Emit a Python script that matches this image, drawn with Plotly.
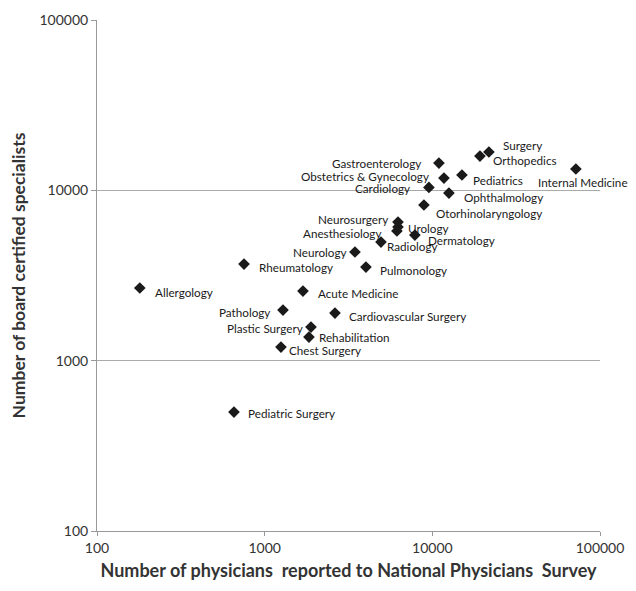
import math
import plotly.graph_objects as go

specialties = ["Surgery", "Orthopedics", "Gastroenterology", "Obstetrics & Gynecology", "Pediatrics",
               "Internal Medicine", "Cardiology", "Ophthalmology", "Otorhinolaryngology", "Neurosurgery",
               "Urology", "Anesthesiology", "Dermatology", "Radiology", "Neurology", "Pulmonology",
               "Rheumatology", "Allergology", "Acute Medicine", "Pathology", "Cardiovascular Surgery",
               "Plastic Surgery", "Rehabilitation", "Chest Surgery", "Pediatric Surgery"]
physicians = [21750, 19230, 10950, 11730, 15020, 71800, 9540, 12560, 8910, 6240,
              6240, 6150, 7870, 4940, 3455, 4018, 753, 180, 1692, 1286, 2626, 1889, 1837, 1251, 656]
certified = [16790, 15900, 14460, 11810, 12300, 13340, 10400, 9640, 8200, 6510,
             6090, 5770, 5465, 4970, 4345, 3545, 3690, 2670, 2563, 1982, 1903, 1575, 1376, 1202, 499]
x_ticks = [100, 1000, 10000, 100000]
y_ticks = [100, 1000, 10000, 100000]

# label placement (anchor side, x offset px, y offset px downward)
label_style = [("left", 13, -7), ("left", 12, 4), ("right", -17, 0), ("right", -14, -2), ("left", 10, 5),
               ("left", -39, 13), ("right", -18, 1), ("left", 14, 4), ("left", 11, 8), ("right", -9, -3),
               ("left", 9, 1), ("right", -15, 2), ("left", 12, 5), ("left", 5, 4), ("right", -7, 0),
               ("left", 13, 3), ("left", 14, 3), ("left", 14, 4), ("left", 14, 2), ("right", -12, 2),
               ("left", 13, 3), ("right", -7, 1), ("left", 9, 0), ("left", 7, 3), ("left", 13, 1)]

fig = go.Figure(go.Scatter(
    x=physicians, y=certified, mode="markers",
    marker=dict(symbol="diamond", color="#1a1a1a", size=9),
    cliponaxis=False, showlegend=False, hovertext=specialties,
))

# annotations on log axes take log10 positions
for name, xv, yv, (anchor, dx, dy) in zip(specialties, physicians, certified, label_style):
    fig.add_annotation(x=math.log10(xv), y=math.log10(yv), xref="x", yref="y", text=name, showarrow=False,
                       xanchor=anchor, yanchor="middle", xshift=dx, yshift=-dy,
                       borderpad=0, font=dict(family="Lato", size=11.7, color="#1a1a1a"))

fig.update_layout(
    width=628, height=583, plot_bgcolor="white", paper_bgcolor="white",
    margin=dict(l=89, r=36, t=12, b=60, autoexpand=False),
    font=dict(family="Lato", color="#333"),
)
fig.update_xaxes(type="log", range=[2, 5], tickvals=x_ticks, ticktext=[str(v) for v in x_ticks],
                 showgrid=False, showline=True, linecolor="#999", linewidth=1,
                 ticks="outside", ticklen=4, tickcolor="#999", tickfont=dict(size=14, color="#333"),
                 title=dict(text="<b>Number of physicians  reported to National Physicians  Survey</b>",
                            font=dict(size=18, color="#333"), standoff=9), zeroline=False)
fig.update_yaxes(type="log", range=[2, 5], tickvals=y_ticks, ticktext=[str(v) for v in y_ticks],
                 showgrid=True, gridcolor="#aaa", gridwidth=1,
                 showline=True, linecolor="#999", linewidth=1,
                 ticks="outside", ticklen=5, tickcolor="#999", tickfont=dict(size=14, color="#333"),
                 title=dict(text="<b>Number of board certified specialists</b>",
                            font=dict(size=17.5, color="#333"), standoff=9), zeroline=False)

fig.write_html("out.html")
